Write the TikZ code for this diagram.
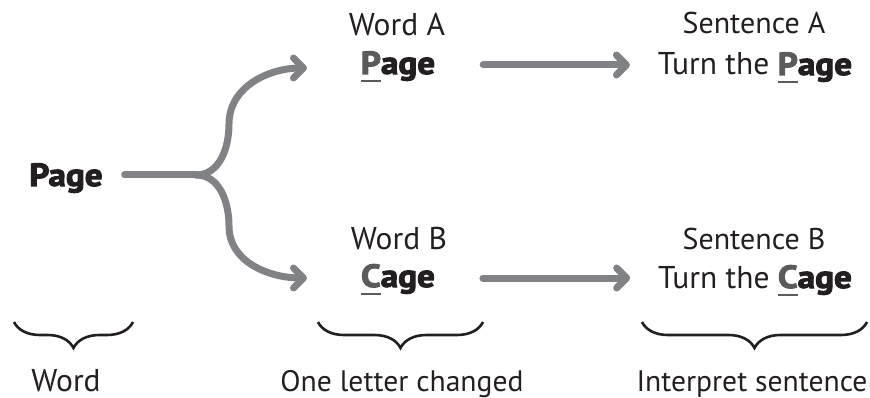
\documentclass[tikz,border=0pt]{standalone}
\usepackage{fontspec}
\setmainfont{PT Sans}
\newfontfamily\heavyfont{PT Sans}[BoldFeatures={FakeBold=3.2,FakeStretch=1.1}]
\usetikzlibrary{arrows.meta,decorations.pathreplacing,calc}
\definecolor{ink}{HTML}{231F20}
\definecolor{arrgray}{HTML}{808285}
\definecolor{chgray}{HTML}{5A5B5D}
\newlength\chgw
\newcommand\chgl[1]{\settowidth\chgw{#1}{\color{chgray}\rlap{\rule[-8pt]{\chgw}{2.4pt}}#1}}
\newcommand\hv[1]{{\heavyfont\bfseries\fontsize{32}{36}\selectfont #1}}
\tikzset{
  txt/.style={text=ink, inner sep=0pt, outer sep=0pt, anchor=base, font=\fontsize{31.5}{36}\selectfont},
  narrow/.style={font=\fontsize{29.6}{34}\selectfont},
  mid/.style={font=\fontsize{30}{34}\selectfont},
  conn/.style={draw=arrgray, line width=7pt, line cap=round, line join=round},
  arr/.style={conn, -{Straight Barb[length=10pt,width=20pt,round]}},
  brc/.style={draw=ink, line width=2.6pt, decorate, decoration={brace, mirror, amplitude=26pt}}
}
\begin{document}
\begin{tikzpicture}[x=1pt,y=-1pt]
\useasboundingbox (0,0) rectangle (870,398);
% left word
\node[txt] (wordL) at (66,186) {\hv{Page}};
% word A / B
\node[txt] (wA) at (397,36) {Word A};
\node[txt] (pA) at (398,74) {\hv{\chgl{P}age}};
\node[txt] (wB) at (399,249) {Word B};
\node[txt] (pB) at (398,287) {\hv{\chgl{C}age}};
% sentences
\node[txt,mid] (sA) at (754,34) {Sentence A};
\node[txt] (tA) at (755,75) {Turn the \hv{\chgl{P}age}};
\node[txt,mid] (sB) at (754,249) {Sentence B};
\node[txt] (tB) at (755,288) {Turn the \hv{\chgl{C}age}};
% bottom labels
\node[txt] (lW) at (66,391) {Word};
\node[txt,narrow] (lO) at (402,391) {One letter changed};
\node[txt,narrow] (lI) at (752,391) {Interpret sentence};
% fork
\coordinate (fork) at (196,175);
\coordinate (tipA) at (307,68);
\coordinate (tipB) at (307,278);
\draw[conn] (wordL.east |- fork) ++(22,0) -- (fork);
\draw[arr] (fork) to[out=0,in=-90] (229,124) to[out=90,in=180] (tipA);
\draw[arr] (fork) to[out=0,in=90] (229,226) to[out=-90,in=180] (tipB);
% horizontal arrows
\draw[arr] ($(pA.east |- 0,65)+(48,0)$) -- ($(tA.west |- 0,65)+(-28,0)$);
\draw[arr] ($(pB.east |- 0,278)+(48,0)$) -- ($(tB.west |- 0,278)+(-28,0)$);
% braces
\draw[brc] (14,322) -- (133,322);
\draw[brc] (318,322) -- (483,322);
\draw[brc] (642,322) -- (867,322);
\end{tikzpicture}
\end{document}
